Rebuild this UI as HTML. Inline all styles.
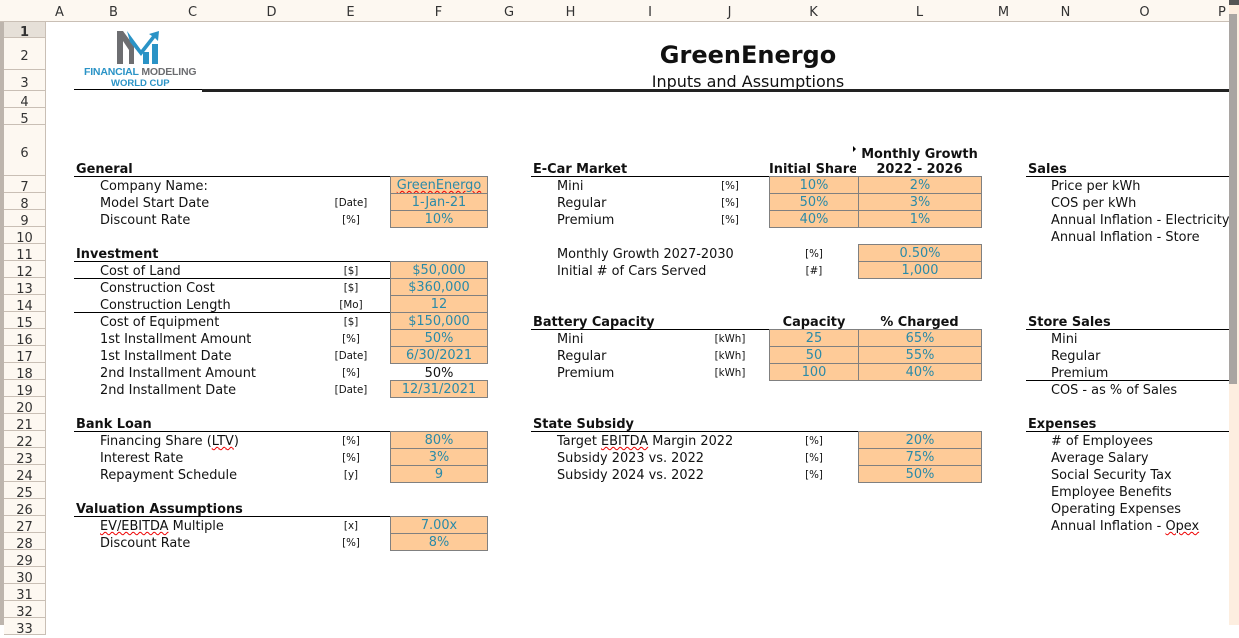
<!DOCTYPE html>
<html><head><meta charset="utf-8">
<style>
*{margin:0;padding:0;box-sizing:border-box}
body{width:1239px;height:625px;overflow:hidden;background:#fff;position:relative;font-family:"DejaVu Sans","Liberation Sans",sans-serif;font-size:12.9px;color:#111}
.a{position:absolute;white-space:nowrap;line-height:17px;height:17px;transform:translateY(2px)}
.ch{position:absolute;top:0;height:22px;border-right:1px solid #c9bfb5;border-bottom:1px solid #c9bfb5;background:#fdf8f1;text-align:center;line-height:25px;font-size:13px;color:#333}
.rh{position:absolute;left:4px;width:42px;border-bottom:1px solid #c9bfb5;border-right:1px solid #c9bfb5;background:#fdf8f1;text-align:center;font-size:13px;color:#333;padding-top:3px}
.b{font-weight:bold}
.u{font-size:10.3px;text-align:center}
.v{position:absolute;height:18px;background:#fecb98;border:1px solid #808080;text-align:center;line-height:18px;color:#2a8aa8}
.hl{position:absolute;height:1px;background:#000}
.w{text-decoration:underline wavy #e00;text-decoration-thickness:1px}
</style></head><body>
<div style="position:absolute;left:0;top:0;width:4px;height:625px;background:#bdb5ad"></div>
<div class="ch" style="left:0;width:46px;background:#fdf8f1"></div>
<div class="ch" style="left:45px;width:30px">A</div>
<div class="ch" style="left:74px;width:80px">B</div>
<div class="ch" style="left:153px;width:80px">C</div>
<div class="ch" style="left:232px;width:80px">D</div>
<div class="ch" style="left:311px;width:80px">E</div>
<div class="ch" style="left:390px;width:98px">F</div>
<div class="ch" style="left:487px;width:45px">G</div>
<div class="ch" style="left:531px;width:80px">H</div>
<div class="ch" style="left:610px;width:81px">I</div>
<div class="ch" style="left:690px;width:80px">J</div>
<div class="ch" style="left:769px;width:90px">K</div>
<div class="ch" style="left:858px;width:124px">L</div>
<div class="ch" style="left:981px;width:46px">M</div>
<div class="ch" style="left:1026px;width:80px">N</div>
<div class="ch" style="left:1105px;width:80px">O</div>
<div class="ch" style="left:1184px;width:80px;text-align:left;padding-left:34px">P</div>
<div class="rh" style="top:22px;height:16px;line-height:16px;background:#e6e0d8;font-weight:bold">1</div>
<div class="rh" style="top:38px;height:32px;line-height:32px">2</div>
<div class="rh" style="top:70px;height:21px;line-height:21px">3</div>
<div class="rh" style="top:91px;height:17px;line-height:17px">4</div>
<div class="rh" style="top:108px;height:17px;line-height:17px">5</div>
<div class="rh" style="top:125px;height:51px;line-height:51px">6</div>
<div class="rh" style="top:176px;height:17px;line-height:17px">7</div>
<div class="rh" style="top:193px;height:17px;line-height:17px">8</div>
<div class="rh" style="top:210px;height:17px;line-height:17px">9</div>
<div class="rh" style="top:227px;height:17px;line-height:17px">10</div>
<div class="rh" style="top:244px;height:17px;line-height:17px">11</div>
<div class="rh" style="top:261px;height:17px;line-height:17px">12</div>
<div class="rh" style="top:278px;height:17px;line-height:17px">13</div>
<div class="rh" style="top:295px;height:17px;line-height:17px">14</div>
<div class="rh" style="top:312px;height:17px;line-height:17px">15</div>
<div class="rh" style="top:329px;height:17px;line-height:17px">16</div>
<div class="rh" style="top:346px;height:17px;line-height:17px">17</div>
<div class="rh" style="top:363px;height:17px;line-height:17px">18</div>
<div class="rh" style="top:380px;height:17px;line-height:17px">19</div>
<div class="rh" style="top:397px;height:17px;line-height:17px">20</div>
<div class="rh" style="top:414px;height:17px;line-height:17px">21</div>
<div class="rh" style="top:431px;height:17px;line-height:17px">22</div>
<div class="rh" style="top:448px;height:17px;line-height:17px">23</div>
<div class="rh" style="top:465px;height:17px;line-height:17px">24</div>
<div class="rh" style="top:482px;height:17px;line-height:17px">25</div>
<div class="rh" style="top:499px;height:17px;line-height:17px">26</div>
<div class="rh" style="top:516px;height:17px;line-height:17px">27</div>
<div class="rh" style="top:533px;height:17px;line-height:17px">28</div>
<div class="rh" style="top:550px;height:17px;line-height:17px">29</div>
<div class="rh" style="top:567px;height:17px;line-height:17px">30</div>
<div class="rh" style="top:584px;height:17px;line-height:17px">31</div>
<div class="rh" style="top:601px;height:17px;line-height:17px">32</div>
<div class="rh" style="top:618px;height:17px;line-height:17px">33</div>
<div style="position:absolute;left:1229px;top:0;width:10px;height:625px;background:#fdeee0"></div>
<div style="position:absolute;left:1229px;top:14px;width:8px;height:370px;background:#a9a5a2"></div>
<div style="position:absolute;left:1229px;top:0;width:10px;height:5px;background:#555"></div>

<svg style="position:absolute;left:112px;top:28px" width="52" height="38" viewBox="0 0 52 38">
<path d="M5 36 V3 H11 L22 18 V36 H17 V22 L11 13 V36Z" fill="#6d6e71"/>
<path d="M15 3 L29 22 L40 8 L37 6 L47 3 L46 13 L43 10 L29 28 L18 14Z" fill="#2a93c6"/>
<rect x="31" y="24" width="6" height="12" fill="#2a93c6"/>
<rect x="40" y="16" width="6" height="20" fill="#2a93c6"/>
</svg>
<div class="a" style="left:84px;top:62px;font-family:'Liberation Sans',sans-serif;font-size:10.5px;font-weight:bold;color:#2a93c6;letter-spacing:-0.2px">FINANCIAL <span style="color:#6d6e71">MODELING</span></div>
<div class="a" style="left:111px;top:73px;font-family:'Liberation Sans',sans-serif;font-size:9.5px;font-weight:bold;color:#2a93c6">WORLD CUP</div>

<div class="a b" style="left:560px;width:376px;text-align:center;top:38px;height:30px;line-height:30px;font-size:24px">GreenEnergo</div>
<div class="a" style="left:560px;width:376px;text-align:center;top:70px;height:20px;line-height:20px;font-size:16px">Inputs and Assumptions</div>
<div class="hl" style="left:74px;top:89px;width:128px;height:1px"></div>
<div class="hl" style="left:202px;top:89px;width:1027px;height:3px;background:#222"></div>

<div class="a b" style="left:76px;top:159px">General</div>
<div class="hl" style="left:74px;top:176px;width:414px"></div>
<div class="a" style="left:100px;top:176px">Company Name:</div>
<div class="a" style="left:100px;top:193px">Model Start Date</div>
<div class="a" style="left:100px;top:210px">Discount Rate</div>
<div class="a u" style="left:311px;width:80px;top:193px">[Date]</div>
<div class="a u" style="left:311px;width:80px;top:210px">[%]</div>
<div class="v" style="left:390px;top:176px;width:98px"><span class="w">GreenEnergo</span></div>
<div class="v" style="left:390px;top:193px;width:98px">1-Jan-21</div>
<div class="v" style="left:390px;top:210px;width:98px">10%</div>

<div class="a b" style="left:76px;top:244px">Investment</div>
<div class="hl" style="left:74px;top:261px;width:414px"></div>
<div class="hl" style="left:74px;top:278px;width:316px"></div>
<div class="hl" style="left:74px;top:312px;width:316px"></div>
<div class="a" style="left:100px;top:261px">Cost of Land</div>
<div class="a" style="left:100px;top:278px">Construction Cost</div>
<div class="a" style="left:100px;top:295px">Construction Length</div>
<div class="a" style="left:100px;top:312px">Cost of Equipment</div>
<div class="a" style="left:100px;top:329px">1st Installment Amount</div>
<div class="a" style="left:100px;top:346px">1st Installment Date</div>
<div class="a" style="left:100px;top:363px">2nd Installment Amount</div>
<div class="a" style="left:100px;top:380px">2nd Installment Date</div>
<div class="a u" style="left:311px;width:80px;top:261px">[$]</div>
<div class="a u" style="left:311px;width:80px;top:278px">[$]</div>
<div class="a u" style="left:311px;width:80px;top:295px">[Mo]</div>
<div class="a u" style="left:311px;width:80px;top:312px">[$]</div>
<div class="a u" style="left:311px;width:80px;top:329px">[%]</div>
<div class="a u" style="left:311px;width:80px;top:346px">[Date]</div>
<div class="a u" style="left:311px;width:80px;top:363px">[%]</div>
<div class="a u" style="left:311px;width:80px;top:380px">[Date]</div>
<div class="v" style="left:390px;top:261px;width:98px">$50,000</div>
<div class="v" style="left:390px;top:278px;width:98px">$360,000</div>
<div class="v" style="left:390px;top:295px;width:98px">12</div>
<div class="v" style="left:390px;top:312px;width:98px">$150,000</div>
<div class="v" style="left:390px;top:329px;width:98px">50%</div>
<div class="v" style="left:390px;top:346px;width:98px">6/30/2021</div>
<div class="a" style="left:390px;top:363px;width:98px;text-align:center">50%</div>
<div class="v" style="left:390px;top:380px;width:98px">12/31/2021</div>

<div class="a b" style="left:76px;top:414px">Bank Loan</div>
<div class="hl" style="left:74px;top:431px;width:316px"></div>
<div class="a" style="left:100px;top:431px">Financing Share (<span class="w">LTV</span>)</div>
<div class="a" style="left:100px;top:448px">Interest Rate</div>
<div class="a" style="left:100px;top:465px">Repayment Schedule</div>
<div class="a u" style="left:311px;width:80px;top:431px">[%]</div>
<div class="a u" style="left:311px;width:80px;top:448px">[%]</div>
<div class="a u" style="left:311px;width:80px;top:465px">[y]</div>
<div class="v" style="left:390px;top:431px;width:98px">80%</div>
<div class="v" style="left:390px;top:448px;width:98px">3%</div>
<div class="v" style="left:390px;top:465px;width:98px">9</div>

<div class="a b" style="left:76px;top:499px">Valuation Assumptions</div>
<div class="hl" style="left:74px;top:516px;width:316px"></div>
<div class="a" style="left:100px;top:516px"><span class="w">EV/EBITDA</span> Multiple</div>
<div class="a" style="left:100px;top:533px">Discount Rate</div>
<div class="a u" style="left:311px;width:80px;top:516px">[x]</div>
<div class="a u" style="left:311px;width:80px;top:533px">[%]</div>
<div class="v" style="left:390px;top:516px;width:98px">7.00x</div>
<div class="v" style="left:390px;top:533px;width:98px">8%</div>

<div class="a b" style="left:533px;top:159px">E-Car Market</div>
<div class="a b" style="left:769px;top:159px;width:87px;overflow:hidden">Initial Share</div>
<div style="position:absolute;left:853px;top:146px;width:0;height:0;border-top:3px solid transparent;border-bottom:3px solid transparent;border-left:3px solid #000"></div>
<div class="a b" style="left:858px;width:123px;text-align:center;top:144px">Monthly Growth</div>
<div class="a b" style="left:858px;width:123px;text-align:center;top:159px">2022 - 2026</div>
<div class="hl" style="left:531px;top:176px;width:238px"></div>
<div class="a" style="left:557px;top:176px">Mini</div>
<div class="a" style="left:557px;top:193px">Regular</div>
<div class="a" style="left:557px;top:210px">Premium</div>
<div class="a u" style="left:690px;width:80px;top:176px">[%]</div>
<div class="a u" style="left:690px;width:80px;top:193px">[%]</div>
<div class="a u" style="left:690px;width:80px;top:210px">[%]</div>
<div class="v" style="left:769px;top:176px;width:90px">10%</div>
<div class="v" style="left:769px;top:193px;width:90px">50%</div>
<div class="v" style="left:769px;top:210px;width:90px">40%</div>
<div class="v" style="left:858px;top:176px;width:124px">2%</div>
<div class="v" style="left:858px;top:193px;width:124px">3%</div>
<div class="v" style="left:858px;top:210px;width:124px">1%</div>
<div class="a" style="left:557px;top:244px">Monthly Growth 2027-2030</div>
<div class="a" style="left:557px;top:261px">Initial # of Cars Served</div>
<div class="a u" style="left:769px;width:90px;top:244px">[%]</div>
<div class="a u" style="left:769px;width:90px;top:261px">[#]</div>
<div class="v" style="left:858px;top:244px;width:124px">0.50%</div>
<div class="v" style="left:858px;top:261px;width:124px">1,000</div>

<div class="a b" style="left:533px;top:312px">Battery Capacity</div>
<div class="a b" style="left:769px;width:90px;text-align:center;top:312px">Capacity</div>
<div class="a b" style="left:858px;width:123px;text-align:center;top:312px">% Charged</div>
<div class="hl" style="left:531px;top:329px;width:238px"></div>
<div class="a" style="left:557px;top:329px">Mini</div>
<div class="a" style="left:557px;top:346px">Regular</div>
<div class="a" style="left:557px;top:363px">Premium</div>
<div class="a u" style="left:690px;width:80px;top:329px">[kWh]</div>
<div class="a u" style="left:690px;width:80px;top:346px">[kWh]</div>
<div class="a u" style="left:690px;width:80px;top:363px">[kWh]</div>
<div class="v" style="left:769px;top:329px;width:90px">25</div>
<div class="v" style="left:769px;top:346px;width:90px">50</div>
<div class="v" style="left:769px;top:363px;width:90px">100</div>
<div class="v" style="left:858px;top:329px;width:124px">65%</div>
<div class="v" style="left:858px;top:346px;width:124px">55%</div>
<div class="v" style="left:858px;top:363px;width:124px">40%</div>

<div class="a b" style="left:533px;top:414px">State Subsidy</div>
<div class="hl" style="left:531px;top:431px;width:327px"></div>
<div class="a" style="left:557px;top:431px">Target <span class="w">EBITDA</span> Margin 2022</div>
<div class="a" style="left:557px;top:448px">Subsidy 2023 vs. 2022</div>
<div class="a" style="left:557px;top:465px">Subsidy 2024 vs. 2022</div>
<div class="a u" style="left:769px;width:90px;top:431px">[%]</div>
<div class="a u" style="left:769px;width:90px;top:448px">[%]</div>
<div class="a u" style="left:769px;width:90px;top:465px">[%]</div>
<div class="v" style="left:858px;top:431px;width:124px">20%</div>
<div class="v" style="left:858px;top:448px;width:124px">75%</div>
<div class="v" style="left:858px;top:465px;width:124px">50%</div>

<div class="a b" style="left:1028px;top:159px">Sales</div>
<div class="hl" style="left:1026px;top:176px;width:203px"></div>
<div class="a" style="left:1051px;top:176px">Price per kWh</div>
<div class="a" style="left:1051px;top:193px">COS per kWh</div>
<div class="a" style="left:1051px;top:210px;width:178px;overflow:hidden">Annual Inflation - Electricity</div>
<div class="a" style="left:1051px;top:227px">Annual Inflation - Store</div>

<div class="a b" style="left:1028px;top:312px">Store Sales</div>
<div class="hl" style="left:1026px;top:329px;width:203px"></div>
<div class="a" style="left:1051px;top:329px">Mini</div>
<div class="a" style="left:1051px;top:346px">Regular</div>
<div class="a" style="left:1051px;top:363px">Premium</div>
<div class="hl" style="left:1026px;top:380px;width:203px"></div>
<div class="a" style="left:1051px;top:380px">COS - as % of Sales</div>

<div class="a b" style="left:1028px;top:414px">Expenses</div>
<div class="hl" style="left:1026px;top:431px;width:203px"></div>
<div class="a" style="left:1051px;top:431px"># of Employees</div>
<div class="a" style="left:1051px;top:448px">Average Salary</div>
<div class="a" style="left:1051px;top:465px">Social Security Tax</div>
<div class="a" style="left:1051px;top:482px">Employee Benefits</div>
<div class="a" style="left:1051px;top:499px">Operating Expenses</div>
<div class="a" style="left:1051px;top:516px">Annual Inflation - <span class="w">Opex</span></div>
</body></html>
